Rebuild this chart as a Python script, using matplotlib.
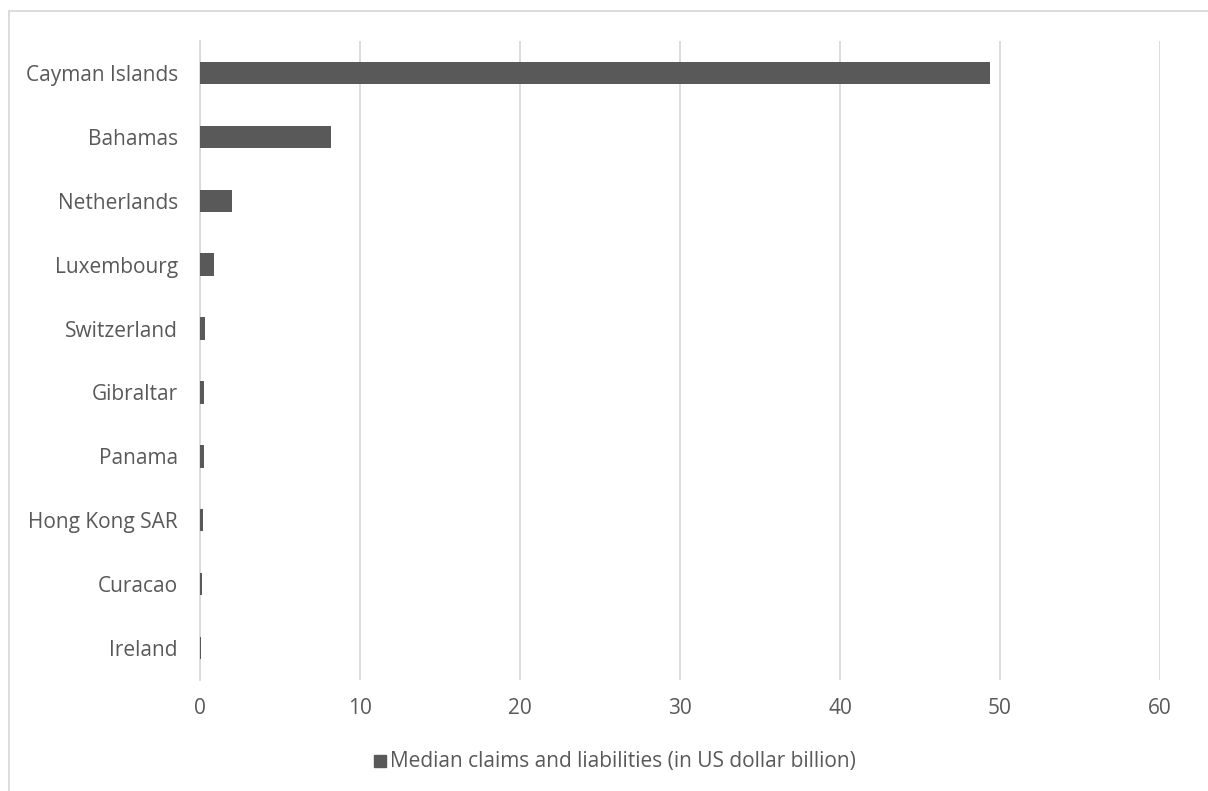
import matplotlib.pyplot as plt
from matplotlib.lines import Line2D
from matplotlib.patches import Rectangle

# Median claims and liabilities by jurisdiction (US dollar billion)
countries = ["Cayman Islands", "Bahamas", "Netherlands", "Luxembourg", "Switzerland",
             "Gibraltar", "Panama", "Hong Kong SAR", "Curacao", "Ireland"]
values = [49.4, 8.2, 2.0, 0.9, 0.3, 0.28, 0.23, 0.17, 0.1, 0.08]
xticks = [0, 10, 20, 30, 40, 50, 60]
series_name = "Median claims and liabilities (in US dollar billion)"

bar_color = "#595959"
grid_color = "#d9d9d9"
text_color = "#595959"

plt.rcParams["font.family"] = ["Open Sans", "DejaVu Sans"]

fig = plt.figure(figsize=(12.08, 7.91), dpi=100)
ax = fig.add_axes([200 / 1208, 1 - 680 / 791, 960 / 1208, 639 / 791])

pos = list(range(len(countries)))
ax.barh(pos, values, height=0.35, color=bar_color, zorder=3)
ax.set_ylim(len(countries) - 0.5, -0.5)
ax.set_yticks(pos)
ax.set_yticklabels(countries)
ax.set_xlim(0, 60)
ax.set_xticks(xticks)

ax.grid(axis="x", color=grid_color, linewidth=1.3, zorder=0)
for side in ["top", "right", "bottom"]:
    ax.spines[side].set_visible(False)
ax.spines["left"].set_color(grid_color)
ax.spines["left"].set_linewidth(1.3)
ax.tick_params(axis="both", length=0, labelsize=15, colors=text_color)
ax.tick_params(axis="x", pad=13)
ax.tick_params(axis="y", pad=16)

# outer chart frame
fig.add_artist(Line2D([9 / 1208, 1], [1 - 11 / 791, 1 - 11 / 791],
                      transform=fig.transFigure, color=grid_color, linewidth=1.3))
fig.add_artist(Line2D([9 / 1208, 9 / 1208], [0, 1 - 11 / 791],
                      transform=fig.transFigure, color=grid_color, linewidth=1.3))

# legend
fig.add_artist(Rectangle((374 / 1208, 1 - 767 / 791), 12 / 1208, 12 / 791,
                         transform=fig.transFigure, color=bar_color))
fig.text(390 / 1208, 1 - 761 / 791, series_name, fontsize=15, color=text_color,
         va="center", ha="left")

fig.savefig("out.png", dpi=100, facecolor="white")
